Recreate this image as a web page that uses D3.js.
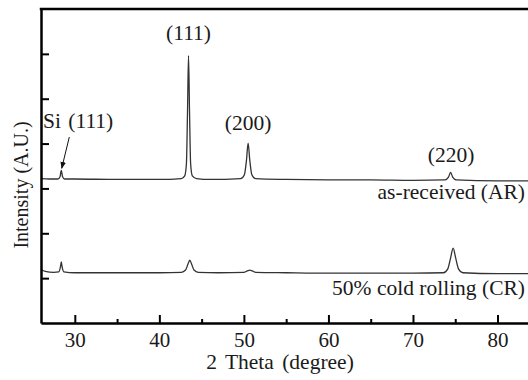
<!DOCTYPE html>
<html>
<head>
<meta charset="utf-8">
<script src="https://cdn.jsdelivr.net/npm/d3@7"></script>
<style>
  body { margin: 0; background: #fff; }
  text { font-family: "Liberation Serif", "DejaVu Serif", serif; fill: #1a1a1a; }
</style>
</head>
<body>
<div class="xrd-chart"></div>
<script>
// 2 Theta positions and intensities
var arTheta = [26, 27, 28.0, 28.25, 28.4, 28.55, 28.8, 30, 35, 40, 42.6, 43.0, 43.2, 43.33, 43.45, 43.57, 43.7, 43.9, 44.4, 46, 49.6, 50.05, 50.3, 50.5, 50.7, 50.95, 51.4, 55, 60, 65, 70, 73.8, 74.2, 74.45, 74.7, 75.1, 80, 85];
var arValue = [3.22, 3.21, 3.21, 3.26, 3.40, 3.26, 3.21, 3.21, 3.20, 3.20, 3.22, 3.28, 3.55, 4.7, 5.96, 4.7, 3.55, 3.28, 3.22, 3.20, 3.22, 3.30, 3.62, 4.01, 3.62, 3.30, 3.22, 3.20, 3.19, 3.19, 3.18, 3.19, 3.25, 3.36, 3.25, 3.19, 3.17, 3.17];

var crTheta = [26, 26.5, 27.5, 28.1, 28.3, 28.4, 28.5, 28.7, 30, 35, 40, 42.6, 43.1, 43.4, 43.6, 43.8, 44.1, 44.6, 47, 50.0, 50.4, 50.7, 51.0, 51.4, 55, 60, 70, 73.6, 74.1, 74.45, 74.75, 75.05, 75.4, 75.9, 80, 85];
var crValue = [1.20, 1.15, 1.13, 1.14, 1.25, 1.36, 1.25, 1.14, 1.12, 1.12, 1.12, 1.13, 1.18, 1.32, 1.40, 1.32, 1.18, 1.13, 1.12, 1.13, 1.16, 1.18, 1.16, 1.13, 1.12, 1.11, 1.11, 1.12, 1.20, 1.45, 1.67, 1.45, 1.20, 1.12, 1.10, 1.10];

var xTicks = [30, 40, 50, 60, 70, 80];
var xMinorTicks = [35, 45, 55, 65, 75];
var yTicks = [1, 2, 3, 4, 5, 6];

// peak labels: [2theta, intensity, text]
var peakLabels = [
  [43.45, 6.3, "(111)"],
  [50.5, 4.3, "(200)"],
  [74.5, 3.6, "(220)"]
];

var width = 528, height = 380;
var margin = { top: 9, left: 41, bottom: 57 };
var fontSize = "21.5px";

var svg = d3.select(".xrd-chart").append("svg")
  .attr("width", width)
  .attr("height", height)
  .style("display", "block");

// same px per degree as the picture, the right end runs past the window
var pxPerDeg = (497.7 - 75) / 50;
var xScale = d3.scaleLinear()
  .domain([26, 85])
  .range([margin.left, margin.left + 59 * pxPerDeg]);

var yScale = d3.scaleLinear()
  .domain([0, 7])
  .range([height - margin.bottom, margin.top]);

var line = d3.line()
  .curve(d3.curveMonotoneX)
  .x(d => xScale(d[0]))
  .y(d => yScale(d[1]));

var arData = arTheta.map((t, i) => [t, arValue[i]]);
var crData = crTheta.map((t, i) => [t, crValue[i]]);

[arData, crData].forEach(function(series) {
  svg.append("path")
    .attr("d", line(series))
    .attr("fill", "none")
    .attr("stroke", "#333")
    .attr("stroke-width", 1.3);
});

// x axis with inward ticks
var xAxis = d3.axisBottom(xScale).tickValues(xTicks).tickSizeInner(-8).tickSizeOuter(0);
var gx = svg.append("g")
  .attr("transform", "translate(0," + yScale(0) + ")")
  .call(xAxis);
gx.select(".domain").attr("stroke", "#000").attr("stroke-width", 2.5);
gx.selectAll(".tick line").attr("stroke", "#000").attr("stroke-width", 2);
gx.selectAll(".tick text")
  .attr("y", 24)
  .attr("dy", null)
  .style("font-family", "Liberation Serif, serif")
  .style("font-size", "21px")
  .attr("fill", "#1a1a1a");

var xMinor = d3.axisBottom(xScale).tickValues(xMinorTicks).tickSizeInner(-4).tickSizeOuter(0).tickFormat("");
var gxm = svg.append("g")
  .attr("transform", "translate(0," + yScale(0) + ")")
  .call(xMinor);
gxm.select(".domain").remove();
gxm.selectAll(".tick line").attr("stroke", "#000").attr("stroke-width", 2);

// y axis with inward ticks, no labels
var yAxis = d3.axisLeft(yScale).tickValues(yTicks).tickSizeInner(-8).tickSizeOuter(0).tickFormat("");
var gy = svg.append("g")
  .attr("transform", "translate(" + margin.left + ",0)")
  .call(yAxis);
gy.select(".domain").attr("stroke", "#000").attr("stroke-width", 2.5);
gy.selectAll(".tick line").attr("stroke", "#000").attr("stroke-width", 2);

// top frame line
svg.append("line")
  .attr("x1", margin.left - 1.25).attr("x2", width)
  .attr("y1", yScale(7)).attr("y2", yScale(7))
  .attr("stroke", "#000")
  .attr("stroke-width", 2.5);

// peak labels
svg.selectAll(".peak-label")
  .data(peakLabels)
  .enter()
  .append("text")
  .attr("class", "peak-label")
  .attr("x", d => xScale(d[0]))
  .attr("y", d => yScale(d[1]))
  .attr("text-anchor", "middle")
  .style("font-size", fontSize)
  .text(d => d[2]);

// Si (111) label with arrow
svg.append("text")
  .attr("x", 43)
  .attr("y", 128)
  .style("font-size", fontSize)
  .style("word-spacing", "2px")
  .text("Si (111)");

svg.append("defs").append("marker")
  .attr("id", "arrowhead")
  .attr("viewBox", "0 0 10 10")
  .attr("refX", 9).attr("refY", 5)
  .attr("markerWidth", 7).attr("markerHeight", 7)
  .attr("orient", "auto")
  .append("path")
  .attr("d", "M0,1 L10,5 L0,9 Z")
  .attr("fill", "#111");

svg.append("line")
  .attr("x1", xScale(29.35)).attr("y1", 137)
  .attr("x2", xScale(28.45)).attr("y2", yScale(3.45))
  .attr("stroke", "#111")
  .attr("stroke-width", 1)
  .attr("marker-end", "url(#arrowhead)");

// series labels
svg.append("text")
  .attr("x", 525)
  .attr("y", 199)
  .attr("text-anchor", "end")
  .style("font-size", fontSize)
  .text("as-received (AR)");

svg.append("text")
  .attr("x", 525)
  .attr("y", 295)
  .attr("text-anchor", "end")
  .style("font-size", fontSize)
  .text("50% cold rolling (CR)");

// axis labels
svg.append("text")
  .attr("x", 280)
  .attr("y", 369)
  .attr("text-anchor", "middle")
  .style("font-size", fontSize)
  .style("word-spacing", "3px")
  .text("2 Theta (degree)");

svg.append("text")
  .attr("transform", "translate(28," + 185 + ") rotate(-90)")
  .attr("text-anchor", "middle")
  .style("font-size", "20px")
  .text("Intensity (A.U.)");
</script>
</body>
</html>
